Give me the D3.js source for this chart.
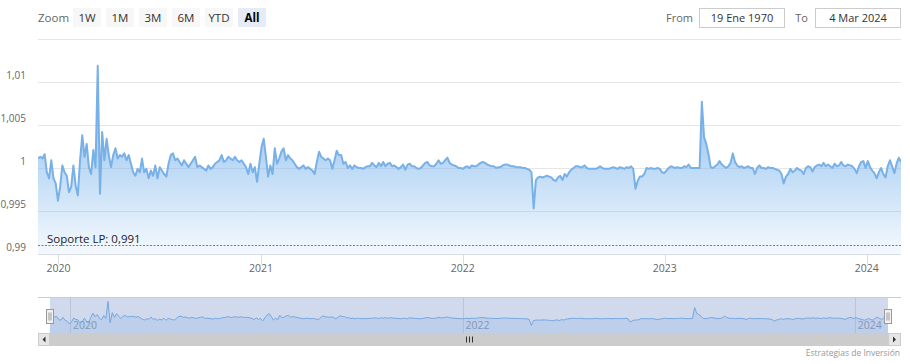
<!DOCTYPE html>
<html><head><meta charset="utf-8">
<script src="https://cdn.jsdelivr.net/npm/d3@7"></script>
<style>
body{margin:0;background:#fff;}
svg{display:block;font-family:"Open Sans",sans-serif;}
</style>
</head><body>
<svg id="c" width="910" height="364"></svg>
<script>
// ---------- DATA ----------
const startDate = "2019-11-25";   // first observation
const stepDays = 4;               // spacing between observations (days)
const values = [
1.0011,1.0013,1.0011,1.0016,0.9995,0.9988,1.0009,0.9988,0.9982,0.9962,
0.9978,1.0003,0.9995,0.9991,0.9972,0.9978,1.0003,0.9980,0.9968,1.0009,
1.0038,1.0013,1.0028,1.0001,0.9993,1.0021,1.0001,1.0119,0.9970,1.0042,
1.0009,1.0034,1.0015,1.0001,1.0015,1.0023,1.0011,1.0015,1.0013,1.0017,
1.0009,1.0015,1.0005,0.9995,0.9991,0.9999,0.9995,1.0011,0.9995,0.9999,
0.9988,0.9997,0.9991,1.0003,0.9988,1.0001,0.9997,0.9993,0.9990,1.0005,
1.0015,1.0017,1.0009,1.0011,1.0007,1.0003,1.0009,1.0005,1.0001,1.0005,
1.0009,1.0013,1.0001,1.0003,1.0001,0.9999,0.9997,1.0003,0.9999,1.0001,
1.0005,1.0007,1.0009,1.0015,1.0007,1.0009,1.0013,1.0011,1.0009,1.0013,
1.0009,1.0007,1.0009,1.0005,1.0001,0.9993,1.0005,0.9995,1.0001,0.9984,
1.0005,1.0024,1.0034,1.0013,0.9990,1.0003,0.9993,1.0023,1.0005,1.0011,
1.0019,1.0023,1.0009,1.0015,1.0011,1.0009,1.0005,1.0001,0.9999,1.0001,
1.0003,0.9999,1.0001,0.9999,0.9997,0.9993,1.0007,1.0019,1.0013,1.0011,
1.0009,1.0011,1.0009,0.9999,1.0009,1.0020,1.0015,1.0015,1.0005,1.0007,
1.0000,1.0003,0.9999,1.0003,1.0001,1.0000,1.0000,0.9999,1.0001,1.0002,
1.0002,1.0006,1.0003,1.0001,1.0006,1.0002,1.0007,1.0002,1.0005,1.0006,
1.0002,1.0003,1.0001,0.9999,1.0001,1.0004,0.9998,1.0004,1.0005,1.0002,
1.0002,1.0000,0.9999,1.0000,1.0003,1.0006,1.0007,1.0003,1.0002,1.0002,
1.0005,1.0009,1.0005,1.0006,1.0009,1.0012,1.0006,1.0004,1.0003,1.0002,
1.0000,1.0000,0.9999,1.0001,1.0002,1.0000,1.0003,1.0002,1.0002,1.0004,
1.0006,1.0007,1.0006,1.0004,1.0003,1.0002,1.0002,1.0000,1.0001,1.0001,
1.0003,1.0004,1.0004,1.0003,1.0002,1.0002,1.0001,1.0001,1.0001,1.0000,
1.0000,0.9999,0.9998,0.9995,0.9953,0.9986,0.9989,0.9990,0.9989,0.9990,
0.9991,0.9990,0.9989,0.9986,0.9985,0.9989,0.9991,0.9986,0.9993,0.9990,
0.9995,0.9998,1.0000,1.0002,1.0002,1.0001,1.0001,1.0003,1.0000,0.9999,
0.9999,0.9999,0.9999,1.0000,1.0002,1.0000,0.9999,0.9999,0.9999,1.0000,
1.0001,1.0000,0.9999,1.0001,1.0000,0.9999,1.0001,1.0000,1.0002,0.9999,
0.9976,0.9985,0.9990,0.9990,0.9993,1.0000,0.9999,1.0000,0.9999,0.9999,
1.0000,0.9999,0.9995,0.9994,0.9997,1.0000,1.0002,1.0001,1.0000,1.0001,
1.0000,1.0000,1.0002,1.0001,1.0004,1.0000,1.0000,1.0000,1.0000,1.0000,
1.0077,1.0036,1.0028,1.0016,1.0001,1.0000,1.0002,1.0004,1.0008,1.0004,
1.0002,1.0000,1.0002,1.0006,1.0017,1.0007,1.0003,1.0001,1.0002,1.0000,
1.0001,1.0002,1.0000,1.0000,0.9993,1.0000,1.0003,1.0000,1.0000,0.9999,
1.0001,1.0000,1.0000,0.9999,0.9998,0.9997,0.9993,0.9982,0.9990,0.9993,
0.9999,0.9995,0.9997,1.0000,0.9998,0.9997,0.9993,1.0000,1.0002,1.0001,
0.9996,1.0001,1.0003,1.0004,1.0002,1.0006,1.0002,1.0004,1.0002,1.0000,
1.0005,1.0002,1.0003,1.0007,1.0003,1.0002,1.0004,1.0003,1.0002,0.9999,
0.9994,1.0002,1.0007,1.0008,1.0000,1.0008,1.0001,0.9997,0.9994,0.9988,
0.9995,1.0000,0.9993,0.9989,1.0002,1.0009,1.0002,0.9994,1.0005,1.0012,1.0007
];
const yTicks = [0.99, 0.995, 1, 1.005, 1.01, 1.015];
const yTickLabels = ["0,99", "0,995", "1", "1,005", "1,01", ""];
const xTickYears = [2020, 2021, 2022, 2023, 2024];
const navTickYears = [2020, 2022, 2024];
const zoomButtons = ["1W", "1M", "3M", "6M", "YTD", "All"];
const selectedButton = "All";
const fromText = "19 Ene 1970";
const toText = "4 Mar 2024";
const supportValue = 0.991;
const supportLabel = "Soporte LP: 0,991";
const creditsText = "Estrategias de Inversión";

// ---------- BUILD ----------
const t0 = new Date(startDate + "T00:00:00Z");
const series = values.map((v, i) => ({ date: d3.utcDay.offset(t0, i * stepDays), value: v }));

const svg = d3.select("#c");
const plot = { left: 38, right: 901, top: 39, bottom: 254 };
const nav = { left: 50, right: 888, top: 297, bottom: 333 };

const x = d3.scaleUtc().domain(d3.extent(series, d => d.date)).range([plot.left, plot.right]);
const y = d3.scaleLinear().domain([0.99, 1.015]).range([plot.bottom, plot.top]);
const xn = d3.scaleUtc().domain(x.domain()).range([nav.left, nav.right]);
const yn = d3.scaleLinear().domain([0.99, 1.015]).range([nav.bottom, nav.top]);

const defs = svg.append("defs");
const grad = defs.append("linearGradient").attr("id", "areaGrad")
  .attr("x1", 0).attr("y1", 0).attr("x2", 0).attr("y2", 1);
grad.append("stop").attr("offset", 0).attr("stop-color", "rgb(124,181,236)").attr("stop-opacity", 1);
grad.append("stop").attr("offset", 1).attr("stop-color", "rgb(124,181,236)").attr("stop-opacity", 0.08);
defs.append("clipPath").attr("id", "plotClip").append("rect")
  .attr("x", plot.left).attr("y", plot.top - 2).attr("width", plot.right - plot.left).attr("height", plot.bottom - plot.top + 2);

// ---------- RANGE SELECTOR ----------
svg.append("text").attr("x", 38).attr("y", 22).attr("fill", "#666").attr("font-size", 11.5).text("Zoom");
const btn = svg.append("g").selectAll("g").data(zoomButtons).join("g")
  .attr("transform", (d, i) => `translate(${73 + i * 33},8)`);
btn.append("rect").attr("width", 28).attr("height", 19).attr("rx", 1)
  .attr("fill", d => d === selectedButton ? "#e6ebf5" : "#f7f7f7");
btn.append("text").attr("x", 14).attr("y", 14).attr("text-anchor", "middle")
  .attr("font-size", 11.5)
  .attr("font-weight", d => d === selectedButton ? "bold" : "normal")
  .attr("fill", d => d === selectedButton ? "#000" : "#333").text(d => d);

svg.append("text").attr("x", 693).attr("y", 22).attr("text-anchor", "end").attr("fill", "#666").attr("font-size", 11).text("From");
svg.append("rect").attr("x", 699.5).attr("y", 8.5).attr("width", 85).attr("height", 19).attr("fill", "#fff").attr("stroke", "#ccc");
svg.append("text").attr("x", 742).attr("y", 22).attr("text-anchor", "middle").attr("fill", "#333").attr("font-size", 11).text(fromText);
svg.append("text").attr("x", 808).attr("y", 22).attr("text-anchor", "end").attr("fill", "#666").attr("font-size", 11).text("To");
svg.append("rect").attr("x", 815.5).attr("y", 8.5).attr("width", 85).attr("height", 19).attr("fill", "#fff").attr("stroke", "#ccc");
svg.append("text").attr("x", 858).attr("y", 22).attr("text-anchor", "middle").attr("fill", "#333").attr("font-size", 11).text(toText);

// ---------- MAIN PLOT ----------
svg.append("g").selectAll("line").data(yTicks.filter(v => v > 0.99)).join("line")
  .attr("x1", plot.left).attr("x2", plot.right)
  .attr("y1", d => Math.round(y(d)) + 0.5).attr("y2", d => Math.round(y(d)) + 0.5)
  .attr("stroke", "#e6e6e6");

svg.append("g").selectAll("text").data(yTicks.map((v, i) => ({ v, l: yTickLabels[i] }))).join("text")
  .attr("x", 26).attr("y", d => y(d.v) - 3).attr("text-anchor", "end")
  .attr("fill", "#666").attr("font-size", 10).text(d => d.l);

const area = d3.area().x(d => x(d.date)).y0(plot.bottom).y1(d => y(d.value));
const line = d3.line().x(d => x(d.date)).y(d => y(d.value));
const pg = svg.append("g").attr("clip-path", "url(#plotClip)");
pg.append("path").datum(series).attr("d", area).attr("fill", "url(#areaGrad)");
pg.append("path").datum(series).attr("d", line).attr("fill", "none")
  .attr("stroke", "rgb(120,176,232)").attr("stroke-width", 2).attr("stroke-linejoin", "round");

// support line
svg.append("line").attr("x1", plot.left).attr("x2", plot.right)
  .attr("y1", Math.round(y(supportValue)) + 0.5).attr("y2", Math.round(y(supportValue)) + 0.5)
  .attr("stroke", "#e05050").attr("stroke-width", 1).attr("stroke-dasharray", "2,1.5");
svg.append("text").attr("x", 47).attr("y", y(supportValue) - 2.5).attr("fill", "#222").attr("font-size", 11.5).text(supportLabel);

// x axis
svg.append("line").attr("x1", plot.left).attr("x2", plot.right).attr("y1", plot.bottom + 0.5).attr("y2", plot.bottom + 0.5).attr("stroke", "#d8dce6");
const xTickDates = xTickYears.map(yy => new Date(Date.UTC(yy, 0, 1)));
svg.append("g").selectAll("line").data(xTickDates).join("line")
  .attr("x1", d => Math.round(x(d)) + 0.5).attr("x2", d => Math.round(x(d)) + 0.5)
  .attr("y1", plot.bottom).attr("y2", plot.bottom + 10).attr("stroke", "#d8dce6");
svg.append("g").selectAll("text").data(xTickDates).join("text")
  .attr("x", d => x(d)).attr("y", 272).attr("text-anchor", "middle")
  .attr("fill", "#666").attr("font-size", 10.5).text(d => d.getUTCFullYear());

// ---------- NAVIGATOR ----------
const navTickDates = navTickYears.map(yy => new Date(Date.UTC(yy, 0, 1)));
svg.append("g").selectAll("line").data(navTickDates).join("line")
  .attr("x1", d => Math.round(xn(d)) + 0.5).attr("x2", d => Math.round(xn(d)) + 0.5)
  .attr("y1", nav.top).attr("y2", nav.bottom).attr("stroke", "#e0e0e0");
svg.append("g").selectAll("text").data(navTickDates).join("text")
  .attr("x", d => xn(d) + 3).attr("y", nav.bottom - 4)
  .attr("fill", "#999").attr("font-size", 10.5).text(d => d.getUTCFullYear());
const navArea = d3.area().x(d => xn(d.date)).y0(nav.bottom).y1(d => yn(d.value));
const navLine = d3.line().x(d => xn(d.date)).y(d => yn(d.value));
svg.append("path").datum(series).attr("d", navArea).attr("fill", "rgba(124,181,236,0.22)");
svg.append("path").datum(series).attr("d", navLine).attr("fill", "none").attr("stroke", "#7cb5ec").attr("stroke-width", 1);
svg.append("rect").attr("x", nav.left).attr("y", nav.top).attr("width", nav.right - nav.left).attr("height", nav.bottom - nav.top)
  .attr("fill", "rgba(102,133,194,0.3)");
svg.append("line").attr("x1", plot.left).attr("x2", plot.right).attr("y1", nav.top + 0.5).attr("y2", nav.top + 0.5).attr("stroke", "#ccc");

// scrollbar
const sbTop = nav.bottom, sbH = 13;
svg.append("rect").attr("x", plot.left).attr("y", sbTop).attr("width", plot.right - plot.left).attr("height", sbH).attr("fill", "#f2f2f2");
svg.append("rect").attr("x", nav.left).attr("y", sbTop).attr("width", nav.right - nav.left).attr("height", sbH).attr("fill", "#cccccc");
[[plot.left, nav.left - plot.left, -1], [nav.right, plot.right - nav.right, 1]].forEach(([bx, bw, dir]) => {
  svg.append("rect").attr("x", bx + 0.5).attr("y", sbTop + 0.5).attr("width", bw - 1).attr("height", sbH - 1)
    .attr("fill", "#e6e6e6").attr("stroke", "#ccc");
  const cx = bx + bw / 2, cy = sbTop + sbH / 2;
  svg.append("path").attr("d", `M${cx - 1.5 * dir},${cy - 3}L${cx - 1.5 * dir},${cy + 3}L${cx + 1.5 * dir},${cy}Z`).attr("fill", "#333");
});
const rc = (nav.left + nav.right) / 2;
[-3, 0, 3].forEach(o => svg.append("line").attr("x1", rc + o + 0.5).attr("x2", rc + o + 0.5)
  .attr("y1", sbTop + 3.5).attr("y2", sbTop + sbH - 3.5).attr("stroke", "#333"));

// handles
[nav.left, nav.right].forEach(hx => {
  const g = svg.append("g").attr("transform", `translate(${Math.round(hx) - 3.5},${309.5})`);
  g.append("rect").attr("width", 7).attr("height", 14).attr("fill", "#f2f2f2").attr("stroke", "#999");
  g.append("line").attr("x1", 2.5).attr("x2", 2.5).attr("y1", 3).attr("y2", 11).attr("stroke", "#999");
  g.append("line").attr("x1", 4.5).attr("x2", 4.5).attr("y1", 3).attr("y2", 11).attr("stroke", "#999");
});

// credits
svg.append("text").attr("x", 900).attr("y", 356).attr("text-anchor", "end").attr("fill", "#999").attr("font-size", 8.5).text(creditsText);
</script>
</body></html>
